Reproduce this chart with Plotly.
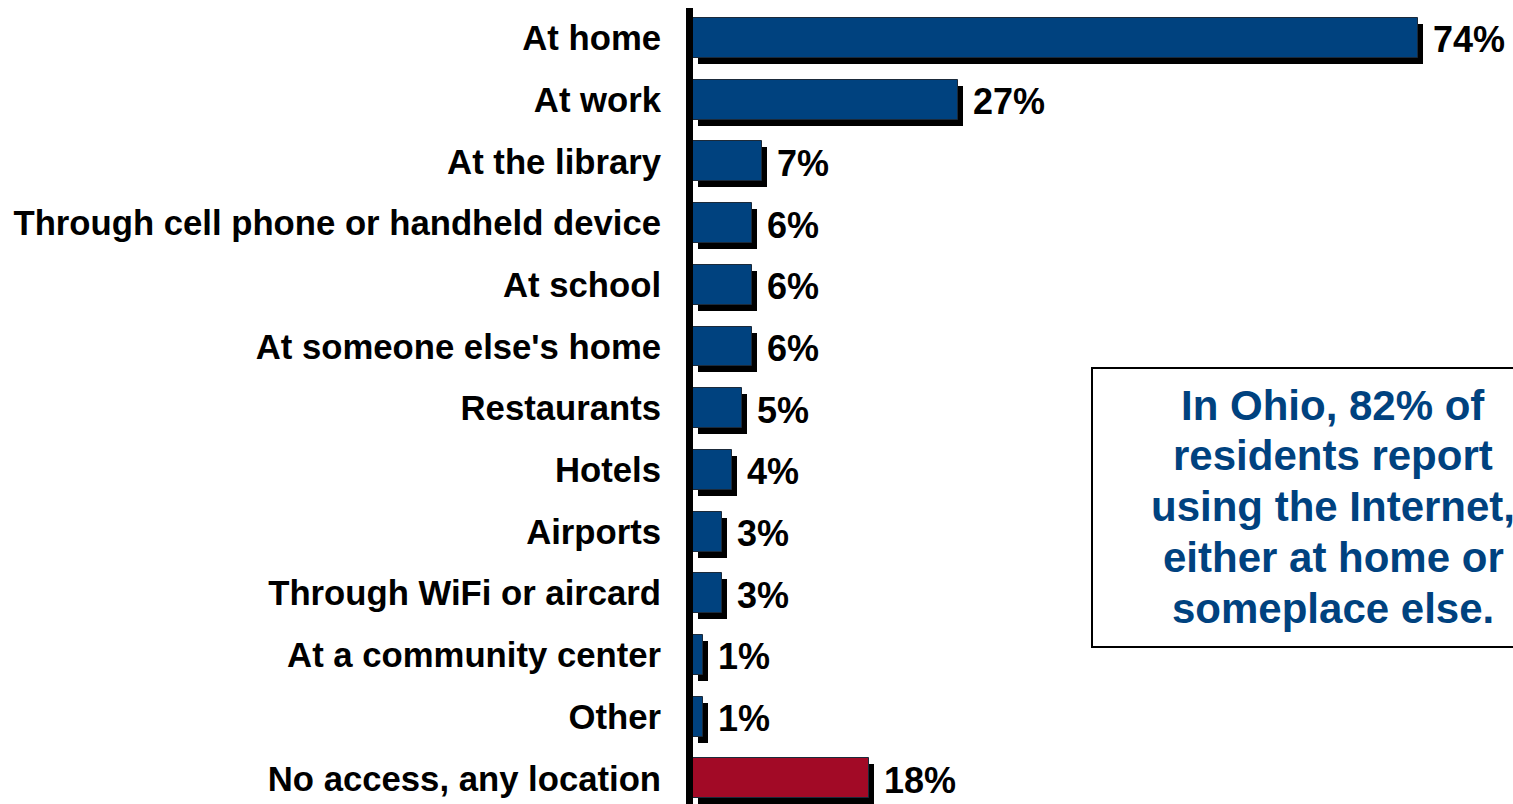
import plotly.graph_objects as go

# Survey results: where residents access the Internet
categories = [
    "At home",
    "At work",
    "At the library",
    "Through cell phone or handheld device",
    "At school",
    "At someone else's home",
    "Restaurants",
    "Hotels",
    "Airports",
    "Through WiFi or aircard",
    "At a community center",
    "Other",
    "No access, any location",
]
values = [74, 27, 7, 6, 6, 6, 5, 4, 3, 3, 1, 1, 18]
bar_colors = ["#00427f"] * 12 + ["#a20a26"]

note_lines = [
    "In Ohio, 82% of",
    "residents report",
    "using the Internet,",
    "either at home or",
    "someplace else.",
]

FONT = "Liberation Sans, Arial, sans-serif"
W, H = 1513, 804
M_L, M_R, M_T, M_B = 693, 0, 8, 0
X_MAX = 83.7
Y_TOP, Y_BOT = -0.486, 12.415

plot_w = W - M_L - M_R
plot_h = H - M_T - M_B
px_per_x = plot_w / X_MAX
px_per_y = plot_h / (Y_BOT - Y_TOP)


def paper_x(px):
    return (px - M_L) / plot_w


def paper_y(py):
    return 1 - (py - M_T) / plot_h


# drop shadow offset (pixels -> data units)
sdx = 5 / px_per_x
sdy = 6 / px_per_y
bar_w = 0.648

pos = list(range(len(categories)))

fig = go.Figure()

# shadow behind each bar
fig.add_trace(go.Bar(
    orientation="h",
    y=[p + sdy for p in pos],
    x=values,
    base=[sdx] * len(values),
    width=bar_w,
    marker=dict(color="#000000", line=dict(width=0)),
    hoverinfo="skip",
    showlegend=False,
))

# main bars
fig.add_trace(go.Bar(
    orientation="h",
    y=pos,
    x=values,
    width=bar_w,
    marker=dict(color=bar_colors, line=dict(color="#1b2a3a", width=1)),
    showlegend=False,
))

# value labels
for p, v in zip(pos, values):
    fig.add_annotation(
        x=v, y=p, xref="x", yref="y",
        text=f"{v}%",
        showarrow=False,
        xanchor="left", yanchor="middle",
        xshift=13, yshift=-2,
        font=dict(family=FONT, size=36, color="#000000", weight="bold"),
    )

# summary note box
fig.add_shape(
    type="rect", xref="paper", yref="paper",
    x0=paper_x(1092), x1=paper_x(1600),
    y0=paper_y(647), y1=paper_y(368),
    line=dict(color="#000000", width=2),
    fillcolor="#ffffff",
    layer="above",
)
line_gap = 50.8
first_line = 405
for k, line in enumerate(note_lines):
    fig.add_annotation(
        xref="paper", yref="paper",
        x=paper_x(1333), y=paper_y(first_line + k * line_gap),
        xanchor="center", yanchor="middle",
        text=line,
        showarrow=False,
        font=dict(family=FONT, size=42, color="#00427f", weight="bold"),
    )

fig.update_layout(
    width=W, height=H,
    margin=dict(l=M_L, r=M_R, t=M_T, b=M_B, pad=0),
    paper_bgcolor="#ffffff",
    plot_bgcolor="#ffffff",
    barmode="overlay",
    bargap=0,
    xaxis=dict(
        range=[0, X_MAX],
        showgrid=False, zeroline=False, showline=False,
        showticklabels=False, ticks="",
    ),
    yaxis=dict(
        range=[Y_BOT, Y_TOP],
        tickmode="array",
        tickvals=pos,
        ticktext=categories,
        ticks="",
        showgrid=False, zeroline=False,
        showline=True, linecolor="#000000", linewidth=7,
        ticklabelstandoff=18,
        tickfont=dict(family=FONT, size=34.7, color="#000000", weight="bold"),
    ),
)

fig.write_html("out.html")
